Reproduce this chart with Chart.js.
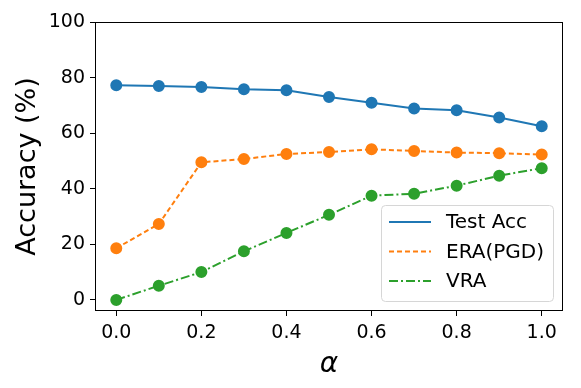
<!DOCTYPE html>
<html lang="en">
<head>
	<meta charset="UTF-8">
	<title>Accuracy vs alpha</title>
	<script src="https://cdn.jsdelivr.net/npm/chart.js@4.4.0/dist/chart.umd.min.js"></script>
	<style>
		html, body { margin: 0; padding: 0; background: #fff; }
		#wrap { width: 581px; height: 388px; }
	</style>
</head>
<body>
	<div id="wrap"><canvas id="accChart"></canvas></div>

	<script>
		// data
		var alphas = [0.0, 0.1, 0.2, 0.3, 0.4, 0.5, 0.6, 0.7, 0.8, 0.9, 1.0];
		var testAcc = [77.2, 77.0, 76.6, 75.8, 75.4, 73.0, 70.9, 68.9, 68.2, 65.6, 62.5];
		var eraPgd = [18.6, 27.3, 49.5, 50.7, 52.5, 53.2, 54.2, 53.6, 53.0, 52.8, 52.3];
		var vra = [0.0, 5.1, 10.0, 17.5, 24.1, 30.6, 37.5, 38.2, 41.1, 44.7, 47.4];
		var xTicks = [0.0, 0.2, 0.4, 0.6, 0.8, 1.0];
		var yTicks = [0, 20, 40, 60, 80, 100];

		function pts(vals) {
			return vals.map(function (v, i) { return { x: alphas[i], y: v }; });
		}

		var FONT = 'DejaVu Sans';

		// frame round the plot area + legend inside lower right
		var framePlugin = {
			id: 'frame',
			afterDraw: function (chart) {
				var a = chart.chartArea;
				var ctx = chart.ctx;
				ctx.save();
				ctx.strokeStyle = '#000';
				ctx.lineWidth = 1;
				ctx.strokeRect(a.left + 0.5, a.top + 0.5, a.right - a.left - 1, a.bottom - a.top - 1);

				// legend
				var bx = 381, by = 205, bw = 172, bh = 96;
				ctx.fillStyle = 'rgba(255,255,255,0.85)';
				ctx.strokeStyle = '#d6d6d6';
				ctx.beginPath();
				ctx.roundRect(bx + 0.5, by + 0.5, bw, bh, 4);
				ctx.fill();
				ctx.stroke();
				ctx.font = '20px ' + FONT;
				ctx.textBaseline = 'middle';
				chart.data.datasets.forEach(function (ds, i) {
					var yy = by + 17 + i * 29.5;
					ctx.strokeStyle = ds.borderColor;
					ctx.lineWidth = 2;
					ctx.setLineDash(ds.borderDash || []);
					ctx.beginPath();
					ctx.moveTo(389, yy);
					ctx.lineTo(431, yy);
					ctx.stroke();
					ctx.setLineDash([]);
					ctx.fillStyle = '#000';
					ctx.fillText(ds.label, 446, yy + 1);
				});
				ctx.restore();
			}
		};

		var ctx = document.getElementById('accChart');
		var chart = new Chart(ctx, {
			type: 'line',
			data: {
				datasets: [{
					label: 'Test Acc',
					data: pts(testAcc),
					borderColor: '#1f77b4',
					backgroundColor: '#1f77b4',
					borderWidth: 2,
					pointRadius: 5,
					tension: 0
				}, {
					label: 'ERA(PGD)',
					data: pts(eraPgd),
					borderColor: '#ff7f0e',
					backgroundColor: '#ff7f0e',
					borderWidth: 2,
					borderDash: [5, 3],
					pointRadius: 5,
					tension: 0
				}, {
					label: 'VRA',
					data: pts(vra),
					borderColor: '#2ca02c',
					backgroundColor: '#2ca02c',
					borderWidth: 2,
					borderDash: [9, 3, 2, 3],
					pointRadius: 5,
					tension: 0
				}]
			},
			plugins: [framePlugin],
			options: {
				responsive: true,
				maintainAspectRatio: false,
				animation: false,
				layout: { padding: { top: 22, right: 18, left: 0, bottom: 0 } },
				plugins: {
					legend: { display: false },
					tooltip: { enabled: false }
				},
				scales: {
					x: {
						type: 'linear',
						min: -0.05,
						max: 1.05,
						afterBuildTicks: function (scale) {
							scale.ticks = xTicks.map(function (v) { return { value: v }; });
						},
						afterFit: function (scale) { scale.height = 77; },
						ticks: {
							color: '#000',
							font: { family: FONT, size: 19 },
							padding: 6,
							maxRotation: 0,
							callback: function (v) { return v.toFixed(1); }
						},
						grid: { drawOnChartArea: false, drawTicks: true, tickLength: 5, color: '#000' },
						border: { display: false },
						title: {
							display: true,
							text: 'α',
							color: '#000',
							font: { family: FONT, size: 28, style: 'italic' },
							padding: { top: 0, bottom: 6 }
						}
					},
					y: {
						min: -4,
						max: 100,
						afterBuildTicks: function (scale) {
							scale.ticks = yTicks.map(function (v) { return { value: v }; });
						},
						afterFit: function (scale) { scale.width = 95; },
						ticks: {
							color: '#000',
							font: { family: FONT, size: 19 },
							padding: 5
						},
						grid: { drawOnChartArea: false, drawTicks: true, tickLength: 5, color: '#000' },
						border: { display: false },
						title: {
							display: true,
							text: 'Accuracy (%)',
							color: '#000',
							font: { family: FONT, size: 27 },
							padding: { top: 12, bottom: 0 }
						}
					}
				}
			}
		});
	</script>
</body>
</html>
